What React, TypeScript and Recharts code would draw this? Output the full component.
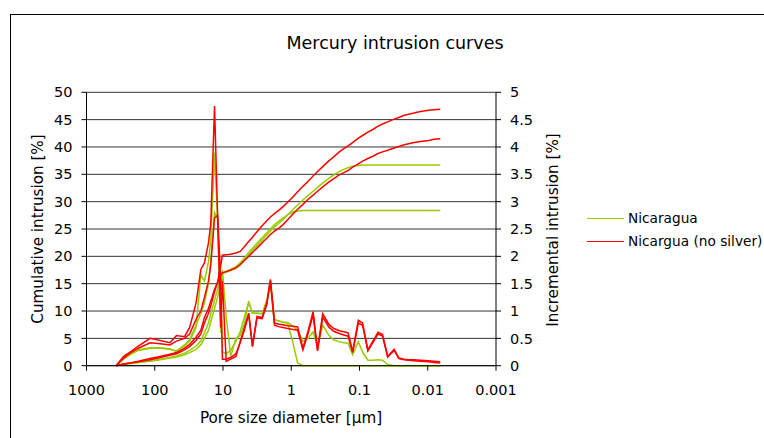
import React from 'react';
import { LineChart, Line, XAxis, YAxis, CartesianGrid } from 'recharts';

// pore diameters in µm, shared by every curve
const poreDiameter = [
  370, 285, 230, 174, 117, 83, 60, 48, 36.6, 30.8,
  24.8, 21.1, 18.7, 16.3, 15.1, 13.3, 12.0, 10.8, 10.2, 8.98,
  7.71, 6.47, 5.6, 4.84, 4.2, 3.7, 3.18, 2.67, 2.28, 2.02,
  1.76, 1.5, 1.32, 1.13, 0.936, 0.807, 0.675, 0.57, 0.479, 0.412,
  0.346, 0.279, 0.238, 0.198, 0.17, 0.147, 0.126, 0.104, 0.0901, 0.0754,
  0.0637, 0.0534, 0.046, 0.0386, 0.0311, 0.0265, 0.0221, 0.019, 0.0159, 0.0128,
  0.00968, 0.00813, 0.00655
];

// cumulative intrusion [%] (left axis)
const nicaraguaCum1 = [
  0, 0.2, 0.4, 0.6, 0.9, 1.2, 1.5, 1.8, 2.3, 2.8,
  3.6, 4.5, 6.0, 7.8, 9.5, 12.0, 14.0, 15.8, 16.9, 17.1,
  17.4, 17.8, 18.4, 19.3, 20.3, 21.1, 22.0, 23.0, 23.9, 24.6,
  25.4, 26.1, 26.7, 27.6, 28.6, 29.4, 30.3, 31.1, 31.9, 32.6,
  33.4, 34.3, 34.9, 35.5, 35.9, 36.2, 36.5, 36.6, 36.7, 36.7,
  36.7, 36.7, 36.7, 36.7, 36.7, 36.7, 36.7, 36.7, 36.7, 36.7,
  36.7, 36.7, 36.7
];
const nicaraguaCum2 = [
  0, 0.2, 0.4, 0.6, 0.8, 1.1, 1.4, 1.6, 2.0, 2.4,
  3.0, 3.8, 5.0, 6.5, 8.0, 10.5, 12.5, 15.0, 16.8, 17.3,
  17.6, 18.1, 18.8, 19.7, 20.7, 21.5, 22.4, 23.4, 24.3, 25.0,
  25.8, 26.5, 27.0, 27.6, 28.1, 28.3, 28.4, 28.4, 28.4, 28.4,
  28.4, 28.4, 28.4, 28.4, 28.4, 28.4, 28.4, 28.4, 28.4, 28.4,
  28.4, 28.4, 28.4, 28.4, 28.4, 28.4, 28.4, 28.4, 28.4, 28.4,
  28.4, 28.4, 28.4
];
const noSilverCum1 = [
  0, 0.3, 0.5, 0.8, 1.3, 1.7, 2.1, 2.4, 3.2, 3.9,
  5.2, 6.5, 8.8, 10.5, 11.8, 14.0, 15.3, 18.3, 20.2, 20.3,
  20.4, 20.6, 20.9, 21.8, 22.7, 23.5, 24.5, 25.6, 26.5, 27.2,
  27.8, 28.5, 29.1, 29.9, 30.9, 31.8, 32.8, 33.7, 34.7, 35.5,
  36.4, 37.5, 38.2, 39.1, 39.7, 40.2, 40.8, 41.6, 42.1, 42.7,
  43.2, 43.8, 44.2, 44.6, 45.1, 45.4, 45.8, 46.0, 46.2, 46.5,
  46.7, 46.8, 46.9
];
const noSilverCum2 = [
  0, 0.3, 0.5, 0.7, 1.1, 1.5, 1.9, 2.2, 2.9, 3.5,
  4.6, 5.8, 7.8, 9.6, 11.0, 13.5, 15.2, 16.6, 17.0, 17.2,
  17.5, 17.9, 18.5, 19.3, 20.0, 20.7, 21.5, 22.5, 23.3, 24.0,
  24.6, 25.2, 25.8, 26.7, 27.8, 28.6, 29.5, 30.4, 31.2, 31.9,
  32.7, 33.6, 34.2, 34.9, 35.3, 35.7, 36.3, 36.9, 37.4, 37.9,
  38.3, 38.8, 39.1, 39.4, 39.8, 40.1, 40.4, 40.6, 40.8, 41.0,
  41.2, 41.4, 41.5
];

// incremental intrusion [%] (right axis)
const nicaraguaInc1 = [
  0, 0.13, 0.22, 0.29, 0.33, 0.33, 0.31, 0.26, 0.36, 0.45,
  0.7, 1.66, 1.55, 1.9, 2.3, 3.9, 2.7, 0.6, 1.75, 0.9,
  0.17, 0.5, 0.55, 0.78, 1.18, 0.96, 0.96, 0.95, 1.2, 1.55,
  0.84, 0.82, 0.8, 0.79, 0.72, 0.65, 0.45, 0.5, 0.62, 0.35,
  0.74, 0.55, 0.47, 0.44, 0.42, 0.41, 0.2, 0.44, 0.25, 0.1,
  0.1, 0.11, 0.1, 0.02, 0, 0, 0, 0, 0, 0,
  0, 0, 0
];
const nicaraguaInc2 = [
  0, 0.12, 0.2, 0.28, 0.32, 0.32, 0.3, 0.27, 0.38, 0.48,
  0.75, 0.95, 1.15, 1.5, 1.9, 2.8, 2.7, 1.55, 0.25, 0.22,
  0.28, 0.45, 0.62, 0.9, 1.15, 0.96, 0.96, 0.95, 1.15, 1.53,
  0.84, 0.81, 0.79, 0.78, 0.4, 0.05, 0, 0, 0, 0,
  0, 0, 0, 0, 0, 0, 0, 0, 0, 0,
  0, 0, 0, 0, 0, 0, 0, 0, 0, 0,
  0, 0, 0
];
const noSilverInc1 = [
  0, 0.17, 0.25, 0.36, 0.5, 0.46, 0.42, 0.55, 0.53, 0.7,
  1.15, 1.76, 1.88, 2.25, 2.6, 4.75, 2.75, 0.7, 1.55, 0.08,
  0.12, 0.17, 0.44, 0.7, 0.96, 0.35, 0.9, 0.88, 1.15, 1.58,
  0.78, 0.76, 0.75, 0.73, 0.72, 0.71, 0.32, 0.62, 0.99, 0.3,
  0.95, 0.75, 0.68, 0.64, 0.62, 0.6, 0.26, 0.83, 0.78, 0.29,
  0.45, 0.61, 0.57, 0.17, 0.3, 0.14, 0.12, 0.11, 0.11, 0.1,
  0.09, 0.08, 0.07
];
const noSilverInc2 = [
  0, 0.14, 0.23, 0.32, 0.42, 0.4, 0.38, 0.45, 0.5, 0.58,
  0.85, 1.0, 1.25, 1.55, 1.85, 2.7, 2.75, 1.55, 0.12, 0.12,
  0.15, 0.22, 0.42, 0.66, 0.94, 0.36, 0.87, 0.86, 1.12, 1.55,
  0.74, 0.71, 0.7, 0.68, 0.66, 0.65, 0.29, 0.58, 0.93, 0.27,
  0.89, 0.7, 0.63, 0.59, 0.56, 0.54, 0.24, 0.78, 0.74, 0.27,
  0.42, 0.58, 0.54, 0.16, 0.28, 0.13, 0.11, 0.1, 0.09, 0.08,
  0.07, 0.06, 0.05
];

const xTicks = [1000, 100, 10, 1, 0.1, 0.01, 0.001];
const cumulativeTicks = [0, 5, 10, 15, 20, 25, 30, 35, 40, 45, 50];
const incrementalTicks = [0, 0.5, 1, 1.5, 2, 2.5, 3, 3.5, 4, 4.5, 5];

const data = poreDiameter.map((d, i) => ({
  d,
  nicCum1: nicaraguaCum1[i],
  nicCum2: nicaraguaCum2[i],
  nsCum1: noSilverCum1[i],
  nsCum2: noSilverCum2[i],
  nicInc1: nicaraguaInc1[i],
  nicInc2: nicaraguaInc2[i],
  nsInc1: noSilverInc1[i],
  nsInc2: noSilverInc2[i],
}));

const GREEN = '#99cc00';
const RED = '#ff0000';
const FONT = '"DejaVu Sans", Verdana, sans-serif';
const tickStyle = { fill: '#000', fontSize: 14.5, fontFamily: FONT };

const centered = (x: number, y: number, size: number, rotate = 0): React.CSSProperties => ({
  position: 'absolute',
  left: x,
  top: y,
  transform: `translate(-50%, -50%) rotate(${rotate}deg)`,
  whiteSpace: 'nowrap',
  fontSize: size,
  color: '#000',
});

const greens = ['nicCum1', 'nicCum2'];
const reds = ['nsCum1', 'nsCum2'];

export default function App() {
  return (
    <div style={{ position: 'absolute', left: 0, top: 0, width: 764, height: 438, background: '#fff', overflow: 'hidden', fontFamily: FONT }}>
      <div style={{ position: 'absolute', left: 10, top: 14, width: 800, height: 500, border: '1px solid #000' }} />
      <div style={{ position: 'absolute', left: 0, top: 0 }}>
        <LineChart width={764} height={438} data={data} margin={{ top: 92.3, right: 208, bottom: 22.3, left: 26.5 }}>
          <CartesianGrid yAxisId="left" vertical={false} stroke="#333" />
          <XAxis
            dataKey="d"
            type="number"
            scale="log"
            domain={[0.001, 1000]}
            reversed
            ticks={xTicks}
            tickFormatter={(v) => String(v)}
            height={50}
            tickSize={5}
            tickMargin={14}
            stroke="#000"
            tick={tickStyle}
          />
          <YAxis
            yAxisId="left"
            domain={[0, 50]}
            ticks={cumulativeTicks}
            width={60}
            tickSize={5}
            tickMargin={9}
            stroke="#000"
            tick={tickStyle}
          />
          <YAxis
            yAxisId="right"
            orientation="right"
            domain={[0, 5]}
            ticks={incrementalTicks}
            width={60}
            tickSize={5}
            tickMargin={9}
            stroke="#000"
            tick={tickStyle}
          />
          {greens.map((k) => (
            <Line key={k} yAxisId="left" dataKey={k} type="linear" stroke={GREEN} strokeWidth={1.5} dot={false} isAnimationActive={false} />
          ))}
          <Line yAxisId="right" dataKey="nicInc1" type="linear" stroke={GREEN} strokeWidth={1.5} dot={false} isAnimationActive={false} />
          <Line yAxisId="right" dataKey="nicInc2" type="linear" stroke={GREEN} strokeWidth={1.5} dot={false} isAnimationActive={false} />
          {reds.map((k) => (
            <Line key={k} yAxisId="left" dataKey={k} type="linear" stroke={RED} strokeWidth={1.5} dot={false} isAnimationActive={false} />
          ))}
          <Line yAxisId="right" dataKey="nsInc1" type="linear" stroke={RED} strokeWidth={1.5} dot={false} isAnimationActive={false} />
          <Line yAxisId="right" dataKey="nsInc2" type="linear" stroke={RED} strokeWidth={1.5} dot={false} isAnimationActive={false} />
        </LineChart>
      </div>

      <div style={centered(395, 43, 17.5)}>Mercury intrusion curves</div>
      <div style={centered(38, 229, 15.2, -90)}>Cumulative intrusion [%]</div>
      <div style={centered(552.5, 230, 15.2, -90)}>Incremental intrusion [%]</div>
      <div style={centered(291, 418, 15.2)}>Pore size diameter [µm]</div>

      <div style={{ position: 'absolute', left: 587, top: 207, fontSize: 13.7, lineHeight: '23px', color: '#000' }}>
        <div style={{ display: 'flex', alignItems: 'center' }}>
          <span style={{ display: 'inline-block', width: 37, height: 1.5, background: GREEN, marginRight: 4 }} />
          Nicaragua
        </div>
        <div style={{ display: 'flex', alignItems: 'center', whiteSpace: 'nowrap' }}>
          <span style={{ display: 'inline-block', width: 37, height: 1.5, background: RED, marginRight: 4 }} />
          Nicargua (no silver)
        </div>
      </div>
    </div>
  );
}
